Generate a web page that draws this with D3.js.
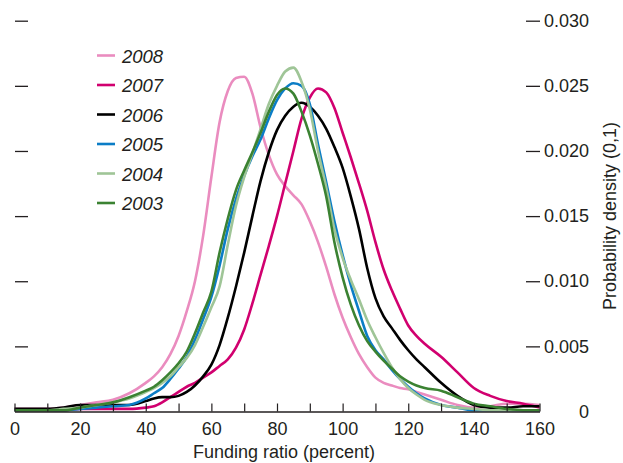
<!DOCTYPE html>
<html>
<head>
<meta charset="utf-8">
<script src="https://cdn.jsdelivr.net/npm/d3@7"></script>
<style>
  html, body { margin: 0; padding: 0; background: #fff; }
  svg { display: block; }
  text { font-family: "Liberation Sans", Arial, sans-serif; fill: #231f20; }
</style>
</head>
<body>
<svg id="chart" width="623" height="463"></svg>
<script>
// ---- data ----
const xGrid = [0,5,10,15,20,25,30,35,
  40,42.5,45,47.5,50,52.5,55,57.5,60,62.5,65,67.5,70,72.5,75,77.5,80,82.5,85,87.5,90,92.5,95,97.5,
  100,102.5,105,107.5,110,112.5,115,117.5,120,122.5,125,
  130,135,140,145,150,155,160];

const y2008 = [0.0002,0.0002,0.0002,0.0003,0.0005,0.0007,0.0009,0.0014,
  0.0022,0.0027,0.0034,0.0044,0.0058,0.0077,0.0100,0.0135,0.0180,0.0222,0.0246,0.0256,0.0257,0.0244,0.0218,0.0197,0.0182,0.0173,0.0166,0.0159,0.0146,0.0130,0.0111,0.0090,
  0.0072,0.0057,0.0044,0.0034,0.0026,0.0022,0.0020,0.0018,0.0017,0.0015,0.0013,
  0.0009,0.0005,0.0003,0.0004,0.0006,0.0006,0.0005];

const y2007 = [0.0001,0.0001,0.0001,0.0001,0.0002,0.0002,0.0002,0.0002,
  0.0003,0.0004,0.0007,0.0011,0.0015,0.0019,0.0022,0.0026,0.0030,0.0035,0.0040,0.0049,0.0063,0.0083,0.0105,0.0127,0.0150,0.0175,0.0200,0.0225,0.0241,0.0248,0.0245,0.0233,
  0.0214,0.0195,0.0175,0.0154,0.0130,0.0109,0.0093,0.0079,0.0066,0.0058,0.0052,
  0.0042,0.0030,0.0018,0.0012,0.0008,0.0006,0.0003];

const y2006 = [0.0002,0.0002,0.0002,0.0003,0.0005,0.0005,0.0005,0.0005,
  0.0008,0.0010,0.0011,0.0011,0.0012,0.0015,0.0020,0.0027,0.0036,0.0051,0.0072,0.0096,0.0122,0.0150,0.0177,0.0199,0.0216,0.0227,0.0234,0.0237,0.0234,0.0227,0.0217,0.0203,
  0.0187,0.0165,0.0140,0.0110,0.0087,0.0073,0.0064,0.0055,0.0047,0.0040,0.0034,
  0.0022,0.0012,0.0005,0.0003,0.0003,0.0004,0.0004];

const y2005 = [0.0001,0.0001,0.0001,0.0001,0.0002,0.0003,0.0004,0.0005,
  0.0010,0.0014,0.0018,0.0025,0.0033,0.0042,0.0055,0.0071,0.0088,0.0112,0.0140,0.0163,0.0181,0.0196,0.0209,0.0225,0.0239,0.0248,0.0252,0.0250,0.0236,0.0205,0.0176,0.0146,
  0.0120,0.0097,0.0077,0.0058,0.0047,0.0040,0.0032,0.0025,0.0019,0.0014,0.0010,
  0.0005,0.0003,0.0001,0.0001,0.0001,0.0001,0.0001];

const y2004 = [0.0001,0.0001,0.0001,0.0002,0.0003,0.0005,0.0007,0.0010,
  0.0015,0.0018,0.0022,0.0027,0.0034,0.0041,0.0051,0.0065,0.0080,0.0096,0.0128,0.0158,0.0180,0.0198,0.0217,0.0236,0.0250,0.0261,0.0264,0.0253,0.0232,0.0200,0.0172,0.0140,
  0.0118,0.0101,0.0086,0.0070,0.0057,0.0045,0.0034,0.0025,0.0018,0.0013,0.0009,
  0.0005,0.0003,0.0002,0.0001,0.0001,0.0001,0.0001];

const y2003 = [0.0001,0.0001,0.0001,0.0001,0.0003,0.0005,0.0007,0.0011,
  0.0016,0.0019,0.0024,0.0030,0.0037,0.0046,0.0060,0.0076,0.0092,0.0122,0.0148,0.0170,0.0185,0.0199,0.0214,0.0230,0.0243,0.0248,0.0244,0.0230,0.0212,0.0190,0.0165,0.0130,
  0.0103,0.0082,0.0066,0.0054,0.0046,0.0039,0.0033,0.0027,0.0023,0.0020,0.0018,
  0.0016,0.0011,0.0006,0.0004,0.0002,0.0001,0.0001];

const seriesNames = ["2008","2007","2006","2005","2004","2003"];
const seriesValues = [y2008, y2007, y2006, y2005, y2004, y2003];
const seriesColors = ["#ea8cbf","#d1006f","#000000","#0b7dc6","#9fc597","#3b8232"];

const xTickValues = d3.range(0, 161, 10);
const xLabelValues = [0,20,40,60,80,100,120,140,160];
const yTickValues = [0,0.005,0.010,0.015,0.020,0.025,0.030];
const yTickLabels = ["0","0.005","0.010","0.015","0.020","0.025","0.030"];

const xTitle = "Funding ratio (percent)";
const yTitle = "Probability density (0,1)";

// ---- chart ----
const svg = d3.select("#chart");
const x = d3.scaleLinear().domain([0,160]).range([14.5, 539.5]);
const y = d3.scaleLinear().domain([0,0.030]).range([411.5, 20.7]);
const fontSize = 18;

// curves
const line = d3.line()
  .x((d, i) => x(xGrid[i]))
  .y(d => y(d))
  .curve(d3.curveMonotoneX);

const curves = svg.append("g");
seriesValues.forEach((vals, k) => {
  curves.append("path")
    .attr("d", line(vals))
    .attr("fill", "none")
    .attr("stroke", seriesColors[k])
    .attr("stroke-width", 2.6)
    .attr("stroke-linejoin", "round");
});

// x axis (ticks pointing up)
const xAxis = d3.axisBottom(x)
  .tickValues(xTickValues)
  .tickSize(-8)
  .tickSizeOuter(0)
  .tickPadding(11)
  .tickFormat(d => xLabelValues.includes(d) ? String(d) : "");
const gx = svg.append("g").attr("transform", `translate(0,${y(0)})`).call(xAxis);
gx.select(".domain").attr("stroke", "#231f20").attr("stroke-width", 1.5);
gx.selectAll(".tick line").attr("stroke", "#231f20").attr("stroke-width", 1.2);
gx.selectAll(".tick text").attr("font-size", fontSize).attr("font-family", null).style("fill", "#231f20");

// right axis
const yAxisR = d3.axisRight(y)
  .tickValues(yTickValues)
  .tickSize(14)
  .tickPadding(0)
  .tickFormat((d, i) => yTickLabels[i]);
const gr = svg.append("g").attr("transform", `translate(526,0)`).call(yAxisR);
gr.select(".domain").remove();
gr.selectAll(".tick line").attr("stroke", "#231f20").attr("stroke-width", 1.3)
  .filter(d => d === 0).remove();
gr.selectAll(".tick text")
  .attr("font-size", fontSize).attr("font-family", null)
  .attr("text-anchor", "end").attr("x", 63)
  .style("fill", "#231f20");

// left axis (ticks only)
const yAxisL = d3.axisRight(y)
  .tickValues(yTickValues.filter(v => v > 0))
  .tickSize(13)
  .tickFormat("");
const gl = svg.append("g").attr("transform", `translate(15,0)`).call(yAxisL);
gl.select(".domain").remove();
gl.selectAll(".tick line").attr("stroke", "#231f20").attr("stroke-width", 1.3);

// axis titles
svg.append("text")
  .attr("x", 284).attr("y", 458)
  .attr("text-anchor", "middle")
  .attr("font-size", fontSize)
  .text(xTitle);
svg.append("text")
  .attr("transform", `translate(616,216) rotate(-90)`)
  .attr("text-anchor", "middle")
  .attr("font-size", fontSize)
  .text(yTitle);

// legend
const legend = svg.append("g");
seriesNames.forEach((name, k) => {
  const yy = 55.5 + k * 29.5;
  legend.append("line")
    .attr("x1", 97).attr("x2", 115)
    .attr("y1", yy).attr("y2", yy)
    .attr("stroke", seriesColors[k]).attr("stroke-width", 2.6);
  legend.append("text")
    .attr("x", 122).attr("y", yy + 7)
    .attr("font-size", fontSize + 0.5)
    .attr("font-style", "italic")
    .text(name);
});
</script>
</body>
</html>
